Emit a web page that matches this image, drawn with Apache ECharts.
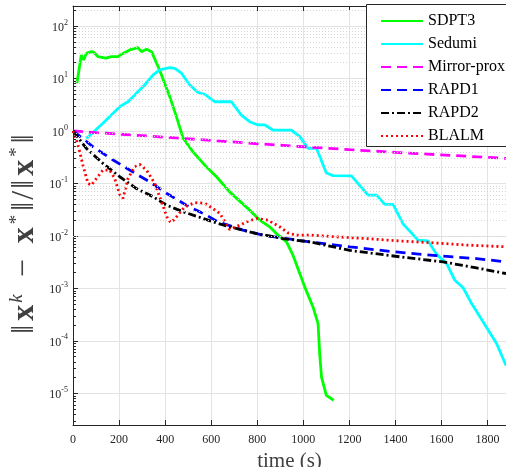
<!DOCTYPE html>
<html><head><meta charset="utf-8">
<script src="https://cdn.jsdelivr.net/npm/echarts@6/dist/echarts.min.js"></script>
<style>html,body{margin:0;padding:0;background:#fff}#c{width:506px;height:467px}</style>
</head><body><div id="c"></div>
<script>
const seriesNames = ['SDPT3', 'Sedumi', 'Mirror-prox', 'RAPD1', 'RAPD2', 'BLALM'];
const xName = 'time (s)';

const sdpt3T = [17, 36, 46, 58, 80, 90, 109, 142, 167, 195, 217, 246, 282, 297, 319, 341, 376, 420, 449, 478, 521, 579, 623, 680, 767, 811, 854, 883, 927, 955, 985, 1006, 1042, 1064, 1071, 1079, 1100, 1132];
const sdpt3V = [8.1, 28, 22.5, 30, 32.4, 31.6, 26, 24.3, 26, 26, 30, 35, 38.6, 32.4, 36, 32.4, 14.5, 4.5, 1.87, 0.73, 0.40, 0.207, 0.134, 0.069, 0.031, 0.020, 0.0149, 0.0111, 0.0077, 0.0043, 0.0019, 0.00107, 0.000444, 0.000214, 0.000057, 0.0000205, 0.0000092, 0.0000074];

const sedumiT = [58, 130, 203, 239, 282, 311, 347, 376, 420, 442, 471, 507, 543, 572, 615, 688, 731, 767, 803, 833, 868, 948, 985, 1021, 1057, 1100, 1129, 1209, 1281, 1318, 1354, 1390, 1433, 1498, 1542, 1578, 1622, 1658, 1694, 1730, 1781, 1839, 1880];
const sedumiV = [0.72, 1.40, 2.9, 3.6, 5.6, 7.5, 11.6, 14.5, 16.0, 15.6, 12.6, 7.5, 5.4, 5.0, 3.6, 3.6, 2.0, 1.50, 1.30, 1.30, 1.04, 1.04, 0.78, 0.466, 0.466, 0.158, 0.141, 0.139, 0.060, 0.060, 0.040, 0.040, 0.017, 0.0083, 0.0080, 0.0045, 0.0030, 0.00143, 0.00103, 0.00052, 0.00023, 0.000089, 0.000034];

const mirrorT = [0, 100, 200, 400, 600, 800, 1000, 1200, 1400, 1600, 1880];
const mirrorV = [1.0, 0.93, 0.87, 0.76, 0.66, 0.57, 0.50, 0.44, 0.39, 0.35, 0.30];

const rapd1T = [0, 87, 174, 246, 333, 406, 492, 579, 630, 738, 825, 927, 1028, 1202, 1390, 1578, 1752, 1880];
const rapd1V = [1.0, 0.50, 0.28, 0.18, 0.107, 0.065, 0.0386, 0.0249, 0.0185, 0.0129, 0.0103, 0.0089, 0.0077, 0.0062, 0.0050, 0.0042, 0.0037, 0.0032];

const rapd2T = [0, 58, 130, 203, 275, 347, 406, 478, 565, 630, 680, 797, 912, 1028, 1202, 1419, 1607, 1752, 1880];
const rapd2V = [1.0, 0.466, 0.241, 0.134, 0.080, 0.056, 0.0386, 0.0288, 0.0215, 0.0173, 0.0149, 0.0111, 0.0089, 0.0077, 0.0053, 0.0040, 0.0032, 0.00246, 0.00192];

const blalmT = [0, 22, 43, 65, 80, 102, 130, 159, 181, 203, 217, 239, 268, 290, 319, 355, 384, 413, 427, 449, 485, 529, 572, 608, 637, 680, 724, 753, 797, 847, 898, 934, 970, 1028, 1144, 1274, 1419, 1563, 1709, 1880];
const blalmV = [1.0, 0.54, 0.224, 0.100, 0.093, 0.125, 0.18, 0.18, 0.125, 0.060, 0.052, 0.125, 0.207, 0.23, 0.18, 0.100, 0.045, 0.020, 0.018, 0.023, 0.036, 0.043, 0.042, 0.033, 0.027, 0.0133, 0.016, 0.0185, 0.0215, 0.020, 0.0149, 0.0114, 0.0103, 0.0104, 0.0096, 0.0089, 0.0080, 0.0074, 0.0067, 0.0062];

const xMin = 0, xMax = 1880, xStep = 200;
const yMin = 2.5e-6, yMax = 240;

function pairs(t, v) { return t.map((x, i) => [x, v[i]]); }

// minor log grid values (2..9 x 10^n)
const minorVals = [];
for (let e = -6; e <= 2; e++) {
  for (let k = 2; k <= 9; k++) {
    const v = k * Math.pow(10, e);
    if (v > yMin && v < yMax) minorVals.push(v);
  }
}
const minorTickLen = 13; // in x data units (~3px)

const serif = 'Liberation Serif';
const axisCol = '#262626';
const titleCol = '#404040';

function mk(name, t, v, color, type, width) {
  return {
    name: name, type: 'line', data: pairs(t, v), symbol: 'none', smooth: false,
    lineStyle: { color: color, width: width, type: type },
    itemStyle: { color: color }, z: 3
  };
}

const chart = echarts.init(document.getElementById('c'), null, { renderer: 'canvas' });
chart.setOption({
  animation: false,
  backgroundColor: '#fff',
  grid: { left: 73, top: 6, right: 0, bottom: 42, containLabel: false, outerBoundsMode: 'none' },
  legend: {
    data: seriesNames, orient: 'vertical', left: 366, top: 4,
    padding: [9, 4, 4, 14], itemGap: 7, itemWidth: 42, itemHeight: 16,
    backgroundColor: 'transparent', borderWidth: 0,
    textStyle: { fontFamily: serif, fontSize: 16, color: '#000' },
    itemStyle: { opacity: 0 },
    z: 10
  },
  xAxis: [{
    type: 'value', min: xMin, max: xMax, interval: xStep,
    name: xName, nameLocation: 'middle', nameGap: 21,
    nameTextStyle: { fontFamily: serif, fontSize: 21, color: titleCol },
    axisLine: { show: true, lineStyle: { color: axisCol, width: 1 } },
    axisTick: { show: true, inside: true, length: 5, lineStyle: { color: axisCol } },
    axisLabel: { fontFamily: serif, fontSize: 12, color: axisCol, margin: 9, showMaxLabel: false,
      formatter: function (v) { return String(v); } },
    splitLine: { show: true, lineStyle: { color: '#e3e3e3', width: 1 } }
  }, {
    type: 'value', min: xMin, max: xMax, interval: xStep, position: 'top',
    axisLine: { show: true, lineStyle: { color: axisCol, width: 1 } },
    axisTick: { show: true, inside: true, length: 5, lineStyle: { color: axisCol } },
    axisLabel: { show: false }, splitLine: { show: false }
  }],
  yAxis: {
    type: 'log', logBase: 10, min: yMin, max: yMax,
    axisLine: { show: true, lineStyle: { color: axisCol, width: 1 } },
    axisTick: { show: true, inside: true, length: 5, lineStyle: { color: axisCol } },
    axisLabel: {
      showMinLabel: false, showMaxLabel: false, margin: 5,
      formatter: function (v) {
        const e = Math.round(Math.log10(v));
        return '{b|10}{s|' + e + '}';
      },
      rich: {
        b: { fontFamily: serif, fontSize: 12, color: axisCol, verticalAlign: 'bottom' },
        s: { fontFamily: serif, fontSize: 8, color: axisCol, verticalAlign: 'bottom', padding: [0, 0, 7, 0] }
      }
    },
    splitLine: { show: true, lineStyle: { color: '#e3e3e3', width: 1 } }
  },
  graphic: [{
    type: 'rect', z: 9, silent: true,
    shape: { x: 366.5, y: 4.5, width: 170, height: 142 },
    style: { fill: '#fff', stroke: '#262626', lineWidth: 1 }
  }, {
    type: 'text', x: 24, y: 234, rotation: Math.PI / 2, z: 5,
    style: {
      text: '{n|‖}{b|x}{s|k}{m|−}{b|x}{s|*}{n|‖}{n|/}{n|‖}{b|x}{s|*}{n|‖}',
      align: 'center', verticalAlign: 'middle', textAlign: 'center', textVerticalAlign: 'middle',
      fill: titleCol,
      rich: {
        n: { fontFamily: serif, fontSize: 32, fill: titleCol, color: titleCol, verticalAlign: 'bottom', padding: [0, 1, 0, 1] },
        m: { fontFamily: serif, fontSize: 32, fill: titleCol, color: titleCol, verticalAlign: 'bottom', padding: [0, 13, 0, 13] },
        b: { fontFamily: serif, fontSize: 32, fontWeight: 'bold', fill: titleCol, color: titleCol, verticalAlign: 'bottom', padding: [0, 2, 0, 3] },
        s: { fontFamily: serif, fontSize: 19, fontStyle: 'italic', fill: titleCol, color: titleCol, verticalAlign: 'bottom', padding: [0, 4, 14, 0] }
      }
    }
  }],
  series: [
    {
      name: '', type: 'line', data: [], silent: true, z: 1,
      markLine: {
        silent: true, symbol: 'none', label: { show: false }, animation: false,
        lineStyle: { color: '#d6d6d6', width: 1, type: [1, 2] },
        emphasis: { disabled: true },
        data: minorVals.map(v => ({ yAxis: v }))
      }
    },
    {
      name: '', type: 'line', data: [], silent: true, z: 4,
      markLine: {
        silent: true, symbol: 'none', label: { show: false }, animation: false,
        lineStyle: { color: axisCol, width: 1, type: 'solid' },
        emphasis: { disabled: true },
        data: minorVals.map(v => [{ coord: [xMin, v] }, { coord: [xMin + minorTickLen, v] }])
      }
    },
    mk('SDPT3', sdpt3T, sdpt3V, '#00ff00', 'solid', 2.8),
    mk('Sedumi', sedumiT, sedumiV, '#00ffff', 'solid', 2.8),
    mk('Mirror-prox', mirrorT, mirrorV, '#ff00ff', [10, 6], 2.8),
    mk('RAPD1', rapd1T, rapd1V, '#0000ff', [10, 6], 2.8),
    mk('RAPD2', rapd2T, rapd2V, '#000000', [8, 3, 2, 3], 2.8),
    mk('BLALM', blalmT, blalmV, '#ff0000', [2, 3], 2.8)
  ]
});
</script>
</body></html>
